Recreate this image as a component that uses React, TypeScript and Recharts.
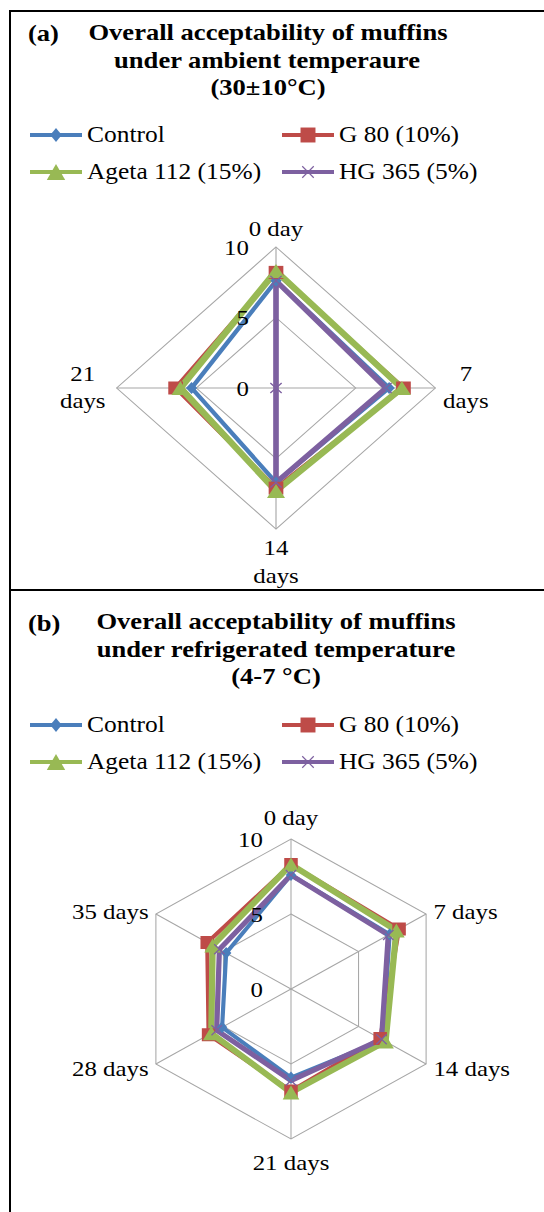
import React from 'react';
import { RadarChart, Radar, PolarGrid, PolarAngleAxis, PolarRadiusAxis } from 'recharts';

// ---------- data ----------
const categoriesA = ['0 day', '7 days', '14 days', '21 days'];
const controlA = [7.6, 7.1, 6.7, 5.3];
const g80A = [8.2, 8.0, 7.1, 6.3];
const agetaA = [8.3, 7.9, 7.3, 6.0];
const hg365A = [7.6, 6.9, 6.7, 0];

const categoriesB = ['0 day', '7 days', '14 days', '21 days', '28 days', '35 days'];
const controlB = [7.6, 7.3, 6.8, 5.9, 5.1, 4.8];
const g80B = [8.3, 8.0, 6.6, 6.8, 6.1, 6.2];
const agetaB = [8.3, 7.8, 7.0, 6.9, 5.9, 5.8];
const hg365B = [7.6, 7.2, 6.7, 6.1, 5.5, 5.3];

const radiusTicks = [0, 5, 10];
const seriesNames = ['Control', 'G 80 (10%)', 'Ageta 112 (15%)', 'HG 365 (5%)'];
const seriesKeys = ['control', 'g80', 'ageta', 'hg365'];
const seriesColors = ['#4A7EBB', '#BE4B48', '#98B954', '#7D60A0'];
const seriesMarkers = ['diamond', 'square', 'triangle', 'x'];
const seriesWidths = [4, 4, 6, 5];

const dataA = categoriesA.map((day, i) => ({ day, control: controlA[i], g80: g80A[i], ageta: agetaA[i], hg365: hg365A[i] }));
const dataB = categoriesB.map((day, i) => ({ day, control: controlB[i], g80: g80B[i], ageta: agetaB[i], hg365: hg365B[i] }));

// ---------- styling ----------
const FONT = '"Liberation Serif", "Times New Roman", serif';
const TEXT_STRETCH = 1.13;

function Marker({ kind, x, y, color, s = 1 }: any) {
  if (kind === 'diamond') {
    const w = 5 * s, h = 6 * s;
    return <polygon points={`${x},${y - h} ${x + w},${y} ${x},${y + h} ${x - w},${y}`} fill={color} />;
  }
  if (kind === 'square') {
    const h = 6.5 * s;
    return <rect x={x - h} y={y - h} width={2 * h} height={2 * h} fill={color} />;
  }
  if (kind === 'triangle') {
    const w = 8 * s, h = 7 * s;
    return <polygon points={`${x},${y - h} ${x + w},${y + h} ${x - w},${y + h}`} fill={color} />;
  }
  const c = 5 * s;
  return <path d={`M${x - c},${y - c}L${x + c},${y + c}M${x - c},${y + c}L${x + c},${y - c}`} stroke={color} strokeWidth={1.2} fill="none" />;
}

function Txt({ x, y, anchor = 'start', size, bold = false, children }: any) {
  const tx = anchor === 'start' ? '0' : anchor === 'middle' ? '-50%' : '-100%';
  const ox = anchor === 'start' ? 'left' : anchor === 'middle' ? 'center' : 'right';
  return (
    <div
      style={{
        position: 'absolute', left: x, top: y, whiteSpace: 'nowrap', fontFamily: FONT, fontSize: size,
        fontWeight: bold ? 700 : 400, lineHeight: 1, color: '#000',
        transformOrigin: `${ox} center`, transform: `translate(${tx},-50%) scaleX(${TEXT_STRETCH})`,
      }}
    >
      {children}
    </div>
  );
}

function LegendBlock({ top }: { top: number }) {
  const rows = [top, top + 37];
  const cols = [{ line: 30, text: 87 }, { line: 282, text: 339 }];
  return (
    <>
      {seriesNames.map((name, i) => {
        const r = rows[Math.floor(i / 2)];
        const c = cols[i % 2];
        return (
          <React.Fragment key={name}>
            <svg style={{ position: 'absolute', left: c.line, top: r - 12 }} width={54} height={24}>
              <line x1={0} y1={12} x2={52} y2={12} stroke={seriesColors[i]} strokeWidth={4} />
              <Marker kind={seriesMarkers[i]} x={26} y={12} color={seriesColors[i]} s={1.15} />
            </svg>
            <Txt x={c.text} y={r} size={22.5}>{name}</Txt>
          </React.Fragment>
        );
      })}
    </>
  );
}

function makeAngleTick(cfg: any, place: any, split: any) {
  return (props: any) => {
    const { x, y, payload } = props;
    const dx = x - cfg.cx, dy = y - cfg.cy;
    const d = Math.hypot(dx, dy) || 1;
    const ux = dx / d, uy = dy / d;
    const vx = cfg.cx + ux * cfg.r, vy = cfg.cy + uy * cfg.r;
    const lines: string[] = split(payload.value);
    const p = place(vx, vy, ux, uy);
    return (
      <g transform={`translate(${p.x},${p.y}) scale(${cfg.k},1)`}>
        <text textAnchor={p.anchor} fontFamily={FONT} fontSize={22} fill="#000">
          {lines.map((l, i) => (
            <tspan key={i} x={0} y={(i - (lines.length - 1) / 2) * p.lh} dy="0.35em">{l}</tspan>
          ))}
        </text>
      </g>
    );
  };
}

function makeRadiusTick(cfg: any) {
  return (props: any) => {
    const { y, payload } = props;
    return (
      <g transform={`translate(${cfg.cx - cfg.labelGap},${y}) scale(${cfg.k},1)`}>
        <text textAnchor="end" fontFamily={FONT} fontSize={22} fill="#000" dy="0.35em">{payload.value}</text>
      </g>
    );
  };
}

const CHART_A = { top: 200, height: 390, cx: 276, cy: 188, r: 141, stretch: 1.13, k: 1, labelGap: 24 };
const CHART_B = { top: 800, height: 412, cx: 291, cy: 189, r: 150, stretch: 1.04, k: 1.13 / 1.04, labelGap: 27 };

const placeA = (vx: number, vy: number, ux: number, uy: number) => {
  if (Math.abs(ux) < 0.1) {
    if (uy < 0) return { x: vx, y: vy - 19, anchor: 'middle', lh: 27 };
    return { x: vx, y: vy + 32, anchor: 'middle', lh: 28 };
  }
  if (ux > 0) return { x: vx + 27, y: vy - 1, anchor: 'middle', lh: 27 };
  return { x: vx - 30, y: vy - 1, anchor: 'middle', lh: 27 };
};
const splitA = (v: string) => (v === '0 day' ? [v] : v.split(' '));

const placeB = (vx: number, vy: number, ux: number, uy: number) => {
  if (Math.abs(ux) < 0.1) {
    if (uy < 0) return { x: vx, y: vy - 22, anchor: 'middle', lh: 26 };
    return { x: vx, y: vy + 23, anchor: 'middle', lh: 26 };
  }
  const yy = uy < 0 ? vy - 3 : vy + 4;
  if (ux > 0) return { x: vx + 7, y: yy, anchor: 'start', lh: 26 };
  return { x: vx - 7, y: yy, anchor: 'end', lh: 26 };
};
const splitB = (v: string) => [v];

function Radial({ cfg, data, place, split }: any) {
  return (
    <div
      style={{
        position: 'absolute', left: 0, top: cfg.top, width: 544, height: cfg.height,
        transform: `scaleX(${cfg.stretch})`, transformOrigin: `${cfg.cx}px 0`,
      }}
    >
      <RadarChart width={544} height={cfg.height} cx={cfg.cx} cy={cfg.cy} outerRadius={cfg.r} data={data}
        margin={{ top: 0, right: 0, bottom: 0, left: 0 }}>
        <PolarGrid gridType="polygon" stroke="#A6A6A6" strokeWidth={1} />
        <PolarAngleAxis dataKey="day" tick={makeAngleTick(cfg, place, split)} tickLine={false} axisLine={false} />
        <PolarRadiusAxis angle={90} domain={[0, 10]} ticks={radiusTicks} tickCount={3} axisLine={false}
          tick={makeRadiusTick(cfg)} />
        {seriesKeys.map((key, i) => (
          <Radar
            key={key}
            name={seriesNames[i]}
            dataKey={key}
            stroke={seriesColors[i]}
            strokeWidth={seriesWidths[i]}
            fill="none"
            fillOpacity={0}
            isAnimationActive={false}
            dot={(p: any) => (
              <g key={`${key}-${p.index}`}>
                <Marker kind={seriesMarkers[i]} x={p.cx} y={p.cy} color={seriesColors[i]} />
              </g>
            )}
          />
        ))}
      </RadarChart>
    </div>
  );
}

export default function App() {
  return (
    <div style={{ position: 'absolute', left: 0, top: 0, width: 544, height: 1212, overflow: 'hidden', background: '#fff' }}>
      {/* frame */}
      <div style={{ position: 'absolute', left: 9, top: 10, width: 540, height: 1210, borderLeft: '2px solid #000', borderTop: '2px solid #000' }} />
      <div style={{ position: 'absolute', left: 9, top: 589, width: 540, height: 2, background: '#000' }} />

      {/* panel (a) */}
      <Txt x={28} y={34} size={23.5} bold>(a)</Txt>
      <Txt x={268} y={33} size={23.5} bold anchor="middle">Overall acceptability of muffins</Txt>
      <Txt x={267} y={61} size={23.5} bold anchor="middle">under ambient temperaure</Txt>
      <Txt x={268} y={88} size={23.5} bold anchor="middle">(30±10°C)</Txt>
      <LegendBlock top={135} />
      <Radial cfg={CHART_A} data={dataA} place={placeA} split={splitA} />

      {/* panel (b) */}
      <Txt x={28} y={624} size={23.5} bold>(b)</Txt>
      <Txt x={276} y={622} size={23.5} bold anchor="middle">Overall acceptability of muffins</Txt>
      <Txt x={276} y={650} size={23.5} bold anchor="middle">under refrigerated temperature</Txt>
      <Txt x={276} y={677} size={23.5} bold anchor="middle">(4-7 °C)</Txt>
      <LegendBlock top={725} />
      <Radial cfg={CHART_B} data={dataB} place={placeB} split={splitB} />
    </div>
  );
}
